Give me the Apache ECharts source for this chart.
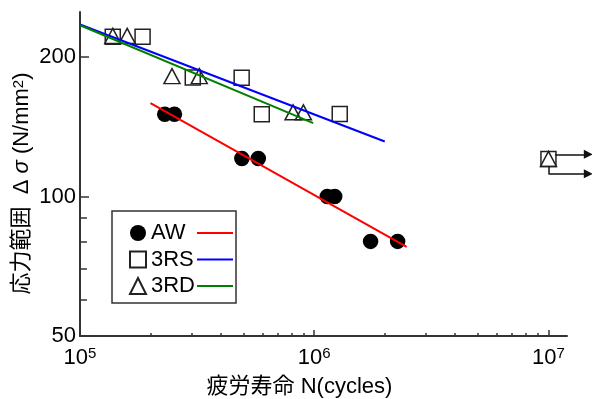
<!DOCTYPE html>
<html><head><meta charset="utf-8">
<script src="https://cdn.jsdelivr.net/npm/echarts@6/dist/echarts.min.js"></script>
<style>html,body{margin:0;padding:0;background:#fff}#c{width:592px;height:399px}</style>
</head><body><div id="c"></div>
<script>
// ---- data ----
const awN = [2.30e5, 2.53e5, 4.91e5, 5.77e5, 1.137e6, 1.223e6, 1.74e6, 2.27e6];
const awS = [150.4, 150.4, 120.7, 120.7, 100, 100, 80, 80];
const rsN = [1.38e5, 1.85e5, 3.03e5, 4.90e5, 5.97e5, 1.285e6, 1e7];
const rsS = [221, 221, 180.5, 180.3, 150.4, 150.6, 120.5];
const rdN = [1.38e5, 1.59e5, 2.47e5, 3.23e5, 8.12e5, 8.99e5, 1e7];
const rdS = [222, 222, 181.8, 181.8, 151.9, 151.9, 120.5];
const awFitN = [2.0e5, 2.48e6];
const awFitS = [159.0, 77.8];
const rsFitN = [1e5, 2.0e6];
const rsFitS = [235, 131.4];
const rdFitN = [1e5, 9.9e5];
const rdFitS = [234.1, 143.9];
// run-out arrows (unbroken specimens at 1e7)
const arrowTopN = [1.07e7, 1.48e7];
const arrowTopS = [123.3, 123.3];
const arrowDropN = [1e7, 1e7];
const arrowDropS = [116, 111.9];
const arrowLowN = [1e7, 1.48e7];
const arrowLowS = [111.9, 111.9];
// ticks / labels
const xLabelValues = [1e5, 1e6, 1e7];
const xMinorTicks = [2e5,3e5,4e5,5e5,6e5,7e5,8e5,9e5,2e6,3e6,4e6,5e6,6e6,7e6,8e6,9e6];
const yLabelValues = [50, 100, 200];
const yMinorTicks = [60, 70, 80, 90];
const seriesNames = ['AW', '3RS', '3RD'];
const fitNames = ['AW fit', '3RS fit', '3RD fit'];
const xTitle = '疲労寿命 N(cycles)';
const yTitle = '応力範囲  Δ {i|σ} (N/mm{sup|2})';

const FONT = "'Liberation Sans', Arial, 'Noto Sans CJK JP', sans-serif";
const zip = (a, b) => a.map((v, i) => [v, b[i]]);
const AX = '#333';

const chart = echarts.init(document.getElementById('c'), null, {renderer: 'canvas'});
const xMin = 1e5, xMax = 1.2e7, yMin = 50, yMax = 250;

const option = {
  animation: false,
  backgroundColor: '#fff',
  grid: {left: 80, right: 25, top: 12, bottom: 63, containLabel: false, outerBoundsMode: 'none'},
  xAxis: [
    {
      type: 'log', logBase: 10, min: xMin, max: xMax,
      axisLine: {show: true, lineStyle: {color: AX, width: 2}},
      axisTick: {show: true, inside: true, length: 6, customValues: xLabelValues, lineStyle: {color: AX, width: 1.5}},
      axisLabel: {
        customValues: xLabelValues, margin: 10,
        formatter: v => '{b|10}{s|' + Math.round(Math.log10(v)) + '}',
        rich: {
          b: {fontSize: 22, fontFamily: FONT, color: '#000', lineHeight: 24},
          s: {fontSize: 15, fontFamily: FONT, color: '#000', verticalAlign: 'top', lineHeight: 15, padding: [0, 0, 6, 0]}
        }
      },
      splitLine: {show: false}, minorTick: {show: false},
      name: xTitle, nameLocation: 'middle', nameGap: 40, nameMoveOverlap: false,
      nameTextStyle: {fontSize: 22, fontFamily: FONT, color: '#000', padding: [0, 48, 0, 0]}
    },
    {
      type: 'log', logBase: 10, min: xMin, max: xMax, position: 'bottom',
      axisLine: {show: false},
      axisTick: {show: true, inside: true, length: 3, customValues: xMinorTicks, lineStyle: {color: AX, width: 1.5}},
      axisLabel: {show: false}, splitLine: {show: false}
    }
  ],
  yAxis: [
    {
      type: 'log', logBase: 10, min: yMin, max: yMax,
      axisLine: {show: true, lineStyle: {color: AX, width: 2}},
      axisTick: {show: true, inside: true, length: 9, customValues: yLabelValues, lineStyle: {color: AX, width: 1.5}},
      axisLabel: {customValues: yLabelValues, margin: 4, fontSize: 22, fontFamily: FONT, color: '#000'},
      splitLine: {show: false},
      name: yTitle, nameLocation: 'middle', nameGap: 47, nameRotate: 90, nameMoveOverlap: false,
      nameTextStyle: {
        fontSize: 22, fontFamily: FONT, color: '#000', padding: [0, 19, 0, 0],
        rich: {
          i: {fontSize: 22, fontFamily: FONT, fontStyle: 'italic', color: '#000'},
          sup: {fontSize: 15, fontFamily: FONT, color: '#000', verticalAlign: 'top', lineHeight: 15}
        }
      }
    },
    {
      type: 'log', logBase: 10, min: yMin, max: yMax, position: 'left',
      axisLine: {show: false},
      axisTick: {show: true, inside: true, length: 7, customValues: yMinorTicks, lineStyle: {color: AX, width: 1.5}},
      axisLabel: {show: false}, splitLine: {show: false}
    }
  ],
  legend: [
    {
      data: seriesNames, orient: 'vertical', left: 112, top: 211,
      padding: [11, 41, 6, 17], itemGap: 4.5, itemWidth: 16, itemHeight: 16,
      borderColor: AX, borderWidth: 1.5, selectedMode: false,
      textStyle: {fontSize: 22, fontFamily: FONT, color: '#000'}
    },
    {
      data: fitNames, orient: 'vertical', left: 197, top: 222,
      padding: 0, itemGap: 4.5, itemWidth: 36, itemHeight: 2, icon: 'rect',
      selectedMode: false, formatter: () => ' ',
      textStyle: {fontSize: 22, fontFamily: FONT, color: '#000'}
    }
  ],
  series: [
    {name: seriesNames[0], type: 'scatter', data: zip(awN, awS), symbol: 'circle', symbolSize: 15.5,
     itemStyle: {color: '#000', opacity: 1}, z: 2},
    {name: seriesNames[1], type: 'scatter', data: zip(rsN, rsS), symbol: 'rect', symbolSize: 15,
     itemStyle: {color: 'rgba(255,255,255,0)', borderColor: '#222', borderWidth: 1.5, opacity: 1}, z: 2},
    {name: seriesNames[2], type: 'scatter', data: zip(rdN, rdS), symbol: 'triangle', symbolSize: [16, 15],
     itemStyle: {color: 'rgba(255,255,255,0)', borderColor: '#222', borderWidth: 1.5, opacity: 1}, z: 2},
    {name: fitNames[0], type: 'line', data: zip(awFitN, awFitS), symbol: 'none', showSymbol: false,
     color: '#ff0000', lineStyle: {color: '#ff0000', width: 2}, z: 3},
    {name: fitNames[1], type: 'line', data: zip(rsFitN, rsFitS), symbol: 'none', showSymbol: false,
     color: '#0000ff', lineStyle: {color: '#0000ff', width: 2}, z: 3},
    {name: fitNames[2], type: 'line', data: zip(rdFitN, rdFitS), symbol: 'none', showSymbol: false,
     color: '#008000', lineStyle: {color: '#008000', width: 2}, z: 3},
    {type: 'lines', coordinateSystem: 'cartesian2d', clip: false, symbol: ['none', 'triangle'], symbolSize: [8, 9],
     lineStyle: {color: '#111', width: 1.5, opacity: 1}, z: 4,
     data: [{coords: zip(arrowTopN, arrowTopS)}, {coords: zip(arrowLowN, arrowLowS)}]},
    {type: 'lines', coordinateSystem: 'cartesian2d', clip: false, symbol: ['none', 'none'],
     lineStyle: {color: '#111', width: 1.5, opacity: 1}, z: 4,
     data: [{coords: zip(arrowDropN, arrowDropS)}]}
  ]
};
chart.setOption(option);
</script>
</body></html>
